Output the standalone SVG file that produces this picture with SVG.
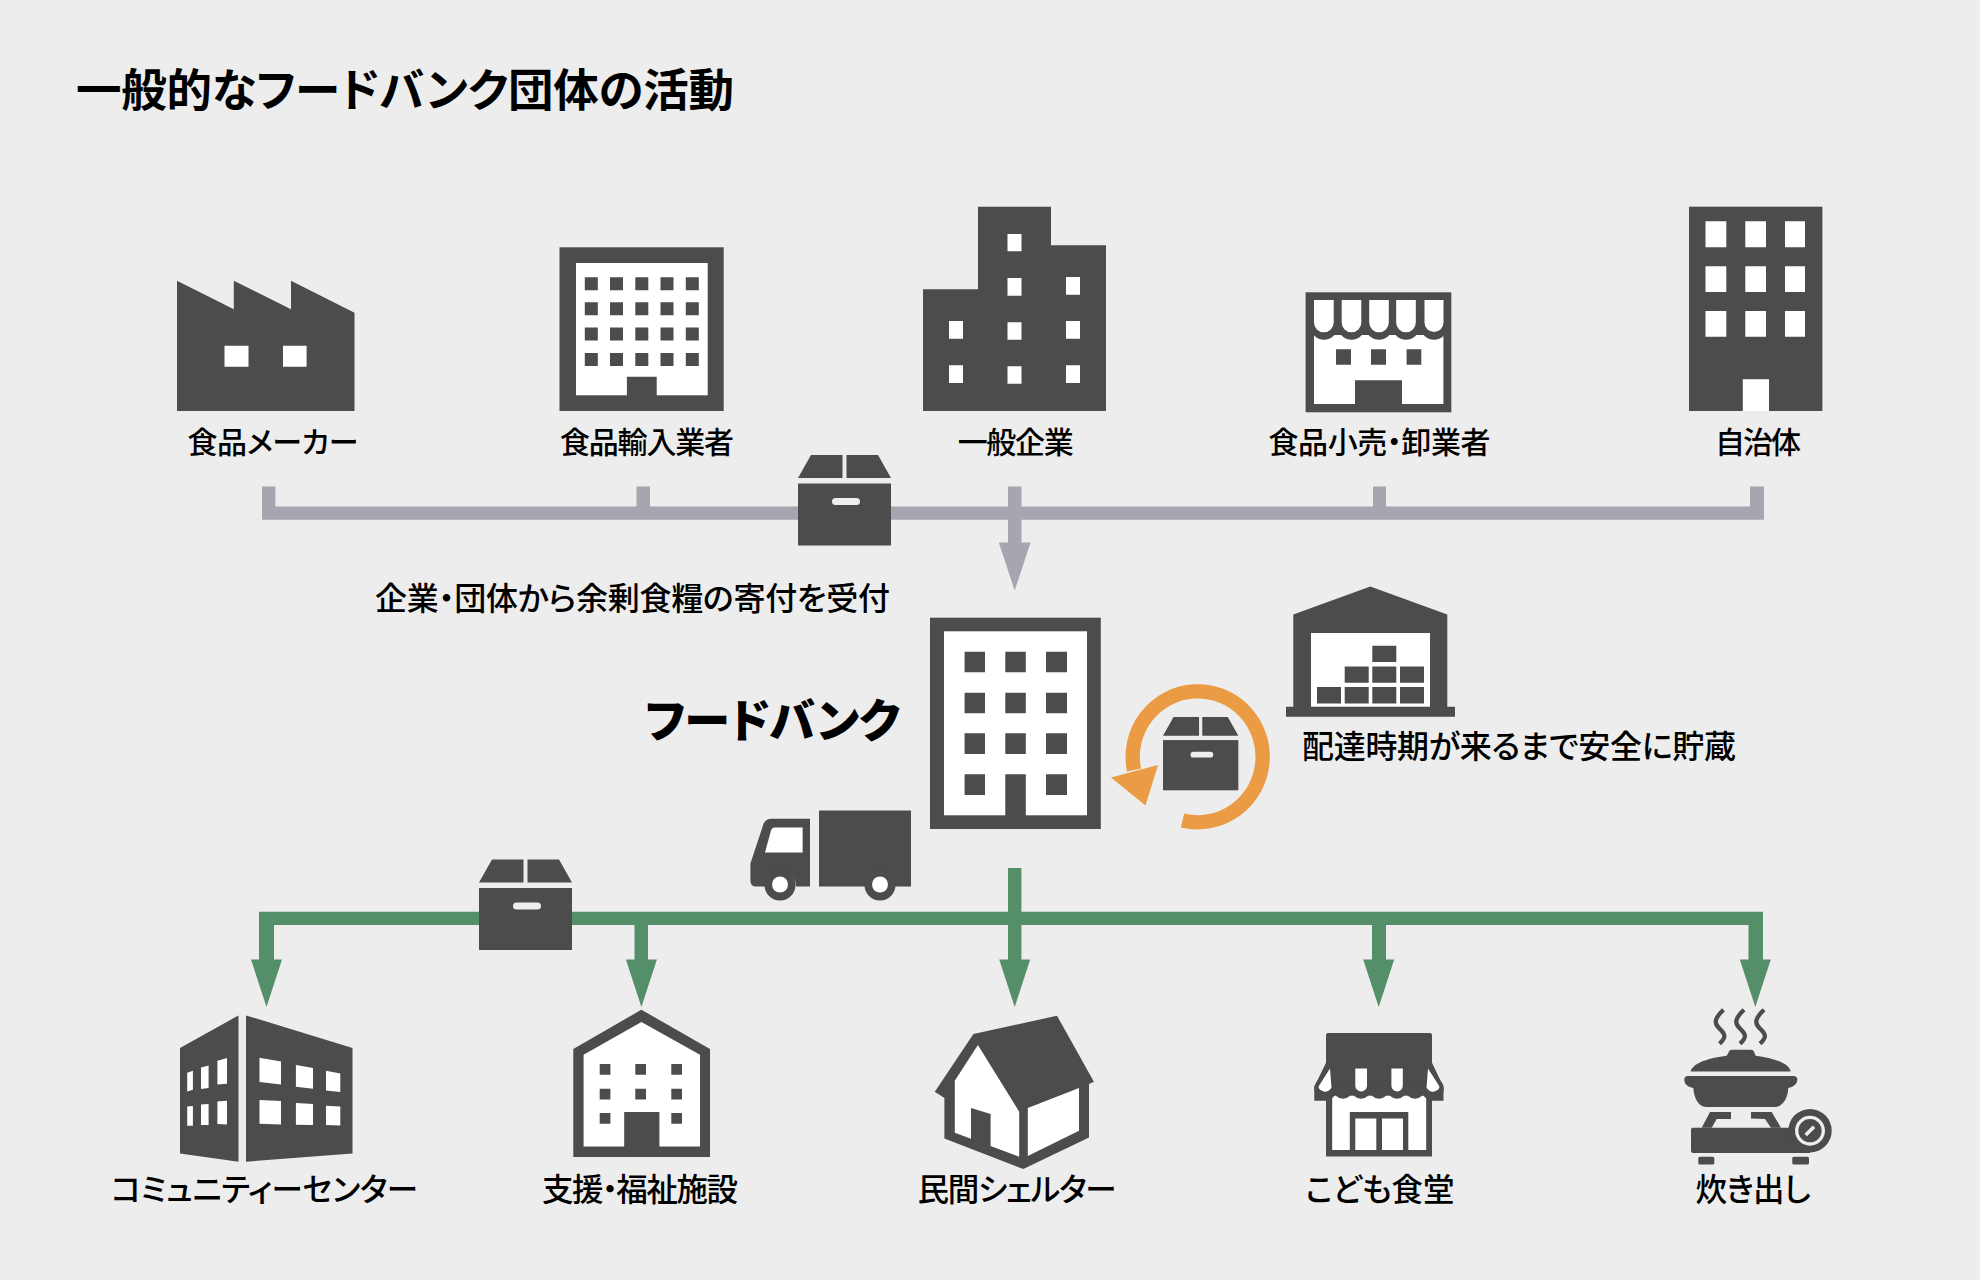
<svg xmlns="http://www.w3.org/2000/svg" xmlns:xlink="http://www.w3.org/1999/xlink" width="1980" height="1280" viewBox="0 0 1980 1280">
<style>
text{font-family:"Noto Sans CJK JP","Noto Sans",sans-serif;fill:#000;font-size:30px;font-weight:500;font-feature-settings:"palt";text-anchor:middle}
.l{font-size:31.500px}
.t{font-size:45.500px;font-weight:700;text-anchor:start}
.h{font-size:46px;font-weight:900;text-anchor:start}
.s{text-anchor:start;font-size:32px}
.d{fill:#4c4c4c}
.w{fill:#fff}
.g{fill:#a7a5b0}
.gr{fill:#548f69}
</style>
<defs>
<g id="box">
<path class="d" d="M13 0H44.500V23H0ZM48.500 0H80L93 23H48.500Z"/>
<rect class="d" y="28.500" width="93" height="62"/>
<rect x="34" y="43" width="28" height="7" rx="3.500" fill="#eee"/>
</g>
<path id="ga" class="gr" d="M-15.500 -47.500H15.500L0 0Z"/>
</defs>
<rect width="1980" height="1280" fill="#ededed"/>
<text class="t" x="76" y="107" textLength="658">一般的なフードバンク団体の活動</text>

<g id="connectors">
<path class="g" d="M262 486.500H275.400V506.500H636.500V486.500H650V506.500H1008V486.500H1021.500V506.500H1373V486.500H1386V506.500H1750V486.500H1764V519.800H1021.500V542.500H1030.600L1014.700 590.500L998.800 542.500H1008V519.800H262Z"/>
<path class="gr" d="M1008 868H1021.400V911.700H1763V961H1748.500V925H1386V961H1372V925H1021.400V961H1008V925H648V961H634.500V925H274V961H259V911.700H1008Z"/>
<use xlink:href="#ga" href="#ga" x="266.500" y="1007"/>
<use xlink:href="#ga" href="#ga" x="641.400" y="1007"/>
<use xlink:href="#ga" href="#ga" x="1014.700" y="1007"/>
<use xlink:href="#ga" href="#ga" x="1378.700" y="1007"/>
<use xlink:href="#ga" href="#ga" x="1755.300" y="1007"/>
<path d="M1182.500 820.500A65 65.500 0 1 0 1134 770" fill="none" stroke="#ea9b44" stroke-width="14.300"/>
<path d="M1158 765L1111 777.500L1145.500 805.500Z" fill="#ea9b44"/>
</g>

<g id="box-top"><use xlink:href="#box" href="#box" x="798" y="455"/></g>
<g id="box-bottom"><use xlink:href="#box" href="#box" x="479" y="859.500"/></g>
<g id="box-store"><use xlink:href="#box" href="#box" transform="translate(1163 717) scale(.81)"/></g>

<g id="maker">
<path class="d" d="M177 280.700L233.800 309.300V280.700L291 309.300V280.700L354.500 312.700V411H177Z"/>
<path class="w" d="M224.500 345.700H248.500V366.700H224.500ZM283 345.700H306.600V366.700H283Z"/>
<text x="273" y="453" textLength="171">食品メーカー</text>
</g>

<g id="importer">
<rect class="d" x="559.500" y="247.300" width="164.200" height="163.700"/>
<rect class="w" x="576" y="263" width="131.700" height="132.300"/>
<path class="d" d="M584.800 277.300h13v13h-13zM610 277.300h13v13h-13zM635.300 277.300h13v13h-13zM660.500 277.300h13v13h-13zM685.800 277.300h13v13h-13zM584.800 302.300h13v13h-13zM610 302.300h13v13h-13zM635.300 302.300h13v13h-13zM660.500 302.300h13v13h-13zM685.800 302.300h13v13h-13zM584.800 327.500h13v13h-13zM610 327.500h13v13h-13zM635.300 327.500h13v13h-13zM660.500 327.500h13v13h-13zM685.800 327.500h13v13h-13zM584.800 353h13v13h-13zM610 353h13v13h-13zM635.300 353h13v13h-13zM660.500 353h13v13h-13zM685.800 353h13v13h-13zM626.900 376.700h29.800v20h-29.800z"/>
<text x="647" y="453" textLength="174">食品輸入業者</text>
</g>

<g id="company">
<path class="d" d="M978 206.700H1051V245.300H1106V411H923V289.300H978Z"/>
<path class="w" d="M1007.500 234h14v17.300h-14zM1007.500 278h14v17.700h-14zM1007.500 322.300h14v17.400h-14zM1007.500 366.300h14v17.400h-14zM1066 277h14v17.700h-14zM1066 321h14v17.700h-14zM1066 365.300h14v17.700h-14zM949 321h14v17.700h-14zM949 365.300h14v17.700h-14z"/>
<text x="1015.700" y="453" textLength="116">一般企業</text>
</g>

<g id="retailer">
<rect class="d" x="1305.600" y="292.300" width="145.700" height="120"/>
<rect class="w" x="1314" y="335" width="129.400" height="69"/>
<g class="d"><circle cx="1324" cy="326" r="13.700"/><circle cx="1351.500" cy="326" r="13.700"/><circle cx="1379" cy="326" r="13.700"/><circle cx="1406" cy="326" r="13.700"/><circle cx="1434" cy="326" r="13.700"/></g>
<path class="w" d="M1314 300h19.700v22.500a9.800 9.800 0 0 1-19.700 0zM1341.700 300h19.600v22.500a9.800 9.800 0 0 1-19.600 0zM1369.200 300h19.600v22.500a9.800 9.800 0 0 1-19.600 0zM1396.200 300h19.600v22.500a9.800 9.800 0 0 1-19.600 0zM1424.500 300h19v22.500a9.500 9.500 0 0 1-19 0z"/>
<path class="d" d="M1336 349.300h15v15.400h-15zM1371 349.300h15v15.400h-15zM1406.600 349.300h14.700v15.400h-14.700zM1355 380.300h47v25h-47z"/>
<text x="1379.500" y="453" textLength="222">食品小売・卸業者</text>
</g>

<g id="municipality">
<rect class="d" x="1689" y="206.700" width="133.400" height="204.300"/>
<path class="w" d="M1705.500 221.300h20.800v26h-20.800zM1745.300 221.300h20.700v26h-20.700zM1785 221.300h20v26h-20zM1705.500 266.300h20.800v25.700h-20.800zM1745.300 266.300h20.700v25.700h-20.700zM1785 266.300h20v25.700h-20zM1705.500 311h20.800v25.700h-20.800zM1745.300 311h20.700v25.700h-20.700zM1785 311h20v25.700h-20zM1742.800 379.300h26.200v31.700h-26.200z"/>
<text x="1758" y="453" textLength="86">自治体</text>
</g>

<g id="donation-label"><text class="s" x="375" y="610" textLength="515">企業・団体から余剰食糧の寄付を受付</text></g>

<g id="foodbank">
<rect class="d" x="930" y="617.700" width="170.800" height="211.300"/>
<rect class="w" x="944" y="631.300" width="143" height="184"/>
<path class="d" d="M964.600 651.700h20.400v20.600h-20.400zM1005.300 651.700h20.500v20.600h-20.500zM1046 651.700h21v20.600h-21zM964.600 692.700h20.400v20.600h-20.400zM1005.300 692.700h20.500v20.600h-20.500zM1046 692.700h21v20.600h-21zM964.600 733.300h20.400v20.700h-20.400zM1005.300 733.300h20.500v20.700h-20.500zM1046 733.300h21v20.700h-21zM964.600 774.300h20.400v20.700h-20.400zM1005.300 774.300h20.500v43h-20.500zM1046 774.300h21v20.700h-21z"/>
<text class="h" x="645" y="737" textLength="255">フードバンク</text>
</g>

<g id="truck" transform="translate(0 .5)">
<path class="d" d="M771 818.300H810V886H796A15.500 15.500 0 0 0 765 886H756Q750.400 886 750.400 880V863L763 825Q765 818.300 771 818.300Z"/>
<rect class="d" x="819" y="810" width="92" height="76"/>
<path class="w" d="M774 827H802.600V852H765L771 830Q772 827 774 827Z"/>
<path class="d" d="M764.500 884.500a15.500 15.500 0 1 0 31 0a15.500 15.500 0 1 0-31 0zM864.500 884.500a15.500 15.500 0 1 0 31 0a15.500 15.500 0 1 0-31 0z"/>
<circle class="w" cx="780" cy="884" r="8"/><circle class="w" cx="880" cy="884" r="8"/>
</g>

<g id="warehouse" transform="translate(0 .7)">
<path class="d" d="M1370.300 585.700L1447.300 613.700V706H1455V716H1286V706H1293.300V613.700Z"/>
<rect class="w" x="1311" y="632.300" width="119" height="73.700"/>
<path class="d" d="M1317 686.300h24v16.400h-24zM1344.700 686.300h24v16.400h-24zM1372.300 686.300h24v16.400h-24zM1400 686.300h24v16.400h-24zM1344.700 665.700h24v16.300h-24zM1372.300 665.700h24v16.300h-24zM1400 665.700h24v16.300h-24zM1372.300 645h24v16.300h-24z"/>
<text class="s" x="1302" y="757" textLength="434">配達時期が来るまで安全に貯蔵</text>
</g>

<g id="community" transform="translate(0 .7)">
<path class="d" d="M180 1047.300L238.500 1014.700V1161L180 1152.700ZM246 1014.700L352.500 1047.300V1152.700L246 1161Z"/>
<path class="w" d="M187.200 1072L192.900 1070V1089L187.200 1090.700ZM201 1066.700L208.600 1064.700V1087.300L201 1088.300ZM217.400 1060L227 1057.300V1083L217.400 1083.700ZM187.200 1105.800L192.900 1105.300V1125H187.200ZM201 1103.800L208.600 1103.300V1124.300H201ZM217.400 1100.800L227 1100V1123.700L217.400 1123.400ZM259.500 1057L281 1060.700V1083.700L259.500 1081.300ZM295.900 1064.300L313 1067.300V1088L295.900 1086ZM326 1070L340.300 1072.700V1091.300L326 1089.700ZM259.500 1099.300L281 1100.300V1123.700L259.500 1123ZM295.900 1102.300L313 1103.300V1124.300L295.900 1124ZM326 1105L340.300 1105.700V1124.700L326 1124.300Z"/>
<text class="l" x="264.600" y="1200.300" textLength="307">コミュニティーセンター</text>
</g>

<g id="welfare" transform="translate(0 .7)">
<path class="d" d="M641.400 1009L710 1048.300V1156.300H573.300V1048.300Z"/>
<path class="w" d="M641.400 1021.300L700 1054V1145.700H583.600V1054Z"/>
<path class="d" d="M599.700 1063.300h10.700v10.700h-10.700zM635.300 1063.300h10.700v10.700h-10.700zM671.300 1063.300h10.700v10.700h-10.700zM599.700 1088h10.700v10.700h-10.700zM635.300 1088h10.700v10.700h-10.700zM671.300 1088h10.700v10.700h-10.700zM599.700 1112.300h10.700v10.700h-10.700zM671.300 1112.300h10.700v10.700h-10.700zM624.200 1111.300h35.200v36h-35.200z"/>
<text class="l" x="640" y="1200.300" textLength="196">支援・福祉施設</text>
</g>

<g id="shelter" transform="translate(0 .7)">
<path class="d" d="M973.400 1033.300L1057 1015L1093.900 1081L1089 1083.300V1136.700L1023.300 1168.300L944.400 1137.700V1097.300L934.800 1091Z"/>
<path class="w" d="M977.900 1044.300L1019.200 1111V1156L954.800 1132V1080ZM1027.800 1107.300L1079 1087.300V1130L1027.800 1155.300Z"/>
<path class="d" d="M971 1107.300L990.600 1113.300V1147L971 1140Z"/>
<text class="l" x="1017" y="1200.300" textLength="199">民間シェルター</text>
</g>

<g id="cafeteria" transform="translate(0 .7)">
<path class="d" d="M1328 1032.300H1430Q1432 1032.300 1432 1034.300V1062L1443.500 1086V1100H1432V1155.700H1326V1100H1314.300V1086L1326 1062V1034.300Q1326 1032.300 1328 1032.300Z"/>
<rect class="w" x="1332.200" y="1095" width="94" height="54.300"/>
<g class="d"><circle cx="1325.600" cy="1088" r="11.300"/><circle cx="1343" cy="1088.500" r="9.500"/><circle cx="1361" cy="1088.500" r="9.500"/><circle cx="1379" cy="1088.500" r="9.500"/><circle cx="1397" cy="1088.500" r="9.500"/><circle cx="1415" cy="1088.500" r="9.500"/><circle cx="1432.400" cy="1088" r="11.300"/></g>
<path class="w" d="M1355.300 1067.700H1367V1085A5.800 5.800 0 0 1 1355.300 1085ZM1391.400 1067.700H1402.800V1085A5.700 5.700 0 0 1 1391.400 1085ZM1330 1067.700L1331.500 1087Q1327 1093 1322 1090Q1317.500 1088 1319 1085ZM1428 1067.700L1426.500 1087Q1431 1093 1436 1090Q1440.500 1088 1439 1085Z"/>
<path class="d" d="M1349.800 1111.300h58.500v38.500h-58.500z"/>
<path class="w" d="M1355.300 1117.700h21v31.600h-21zM1382 1117.700h21v31.600h-21z"/>
<text class="l" x="1380" y="1200.300" textLength="149">こども食堂</text>
</g>

<g id="cooker" transform="translate(0 .7)">
<path d="M1723.500 1009C1714 1018 1714 1023 1719.500 1028C1726 1034 1726 1037 1719.500 1043M1744 1009C1734.500 1018 1734.500 1023 1740 1028C1746.500 1034 1746.500 1037 1740 1043M1764 1009C1754.500 1018 1754.500 1023 1760 1028C1766.500 1034 1766.500 1037 1760 1043" fill="none" stroke="#4c4c4c" stroke-width="4.300"/>
<path class="d" d="M1690.700 1070.700C1693 1062 1710 1057 1726.700 1055L1729.500 1050Q1730 1049 1732 1049H1750Q1753 1049 1753.500 1050L1755.700 1055C1772 1057 1789 1062 1790.700 1070.700Z"/>
<path class="d" d="M1688 1075.300H1793.500Q1797.300 1075.300 1797.300 1079C1797 1084 1793 1086 1788.300 1087.300C1788 1098 1782 1106.300 1775 1106.300H1706C1699 1106.300 1694 1098 1693.300 1087.300C1688 1086 1684.500 1084 1684.300 1079Q1684.300 1075.300 1688 1075.300Z"/>
<path class="d" d="M1710 1111.300H1731V1118.300H1716.700L1711.700 1127H1701.700ZM1751 1111.300H1771.700L1781 1127H1771L1765 1118.300L1751 1117.700Z"/>
<path class="d" d="M1693 1127H1810V1152.300H1693Q1691 1152.300 1691 1150V1129Q1691 1127 1693 1127Z"/>
<circle class="d" cx="1810" cy="1130" r="21.700"/>
<circle cx="1810" cy="1130" r="13.300" fill="none" stroke="#eee" stroke-width="3.300"/>
<path d="M1805.700 1134.300L1814 1126" stroke="#eee" stroke-width="3.500"/>
<rect class="d" x="1698.300" y="1156" width="16" height="7.700" rx="1.500"/>
<rect class="d" x="1792.300" y="1156" width="16.700" height="7.700" rx="1.500"/>
<text class="l" x="1753" y="1200.300" textLength="115">炊き出し</text>
</g>
</svg>
